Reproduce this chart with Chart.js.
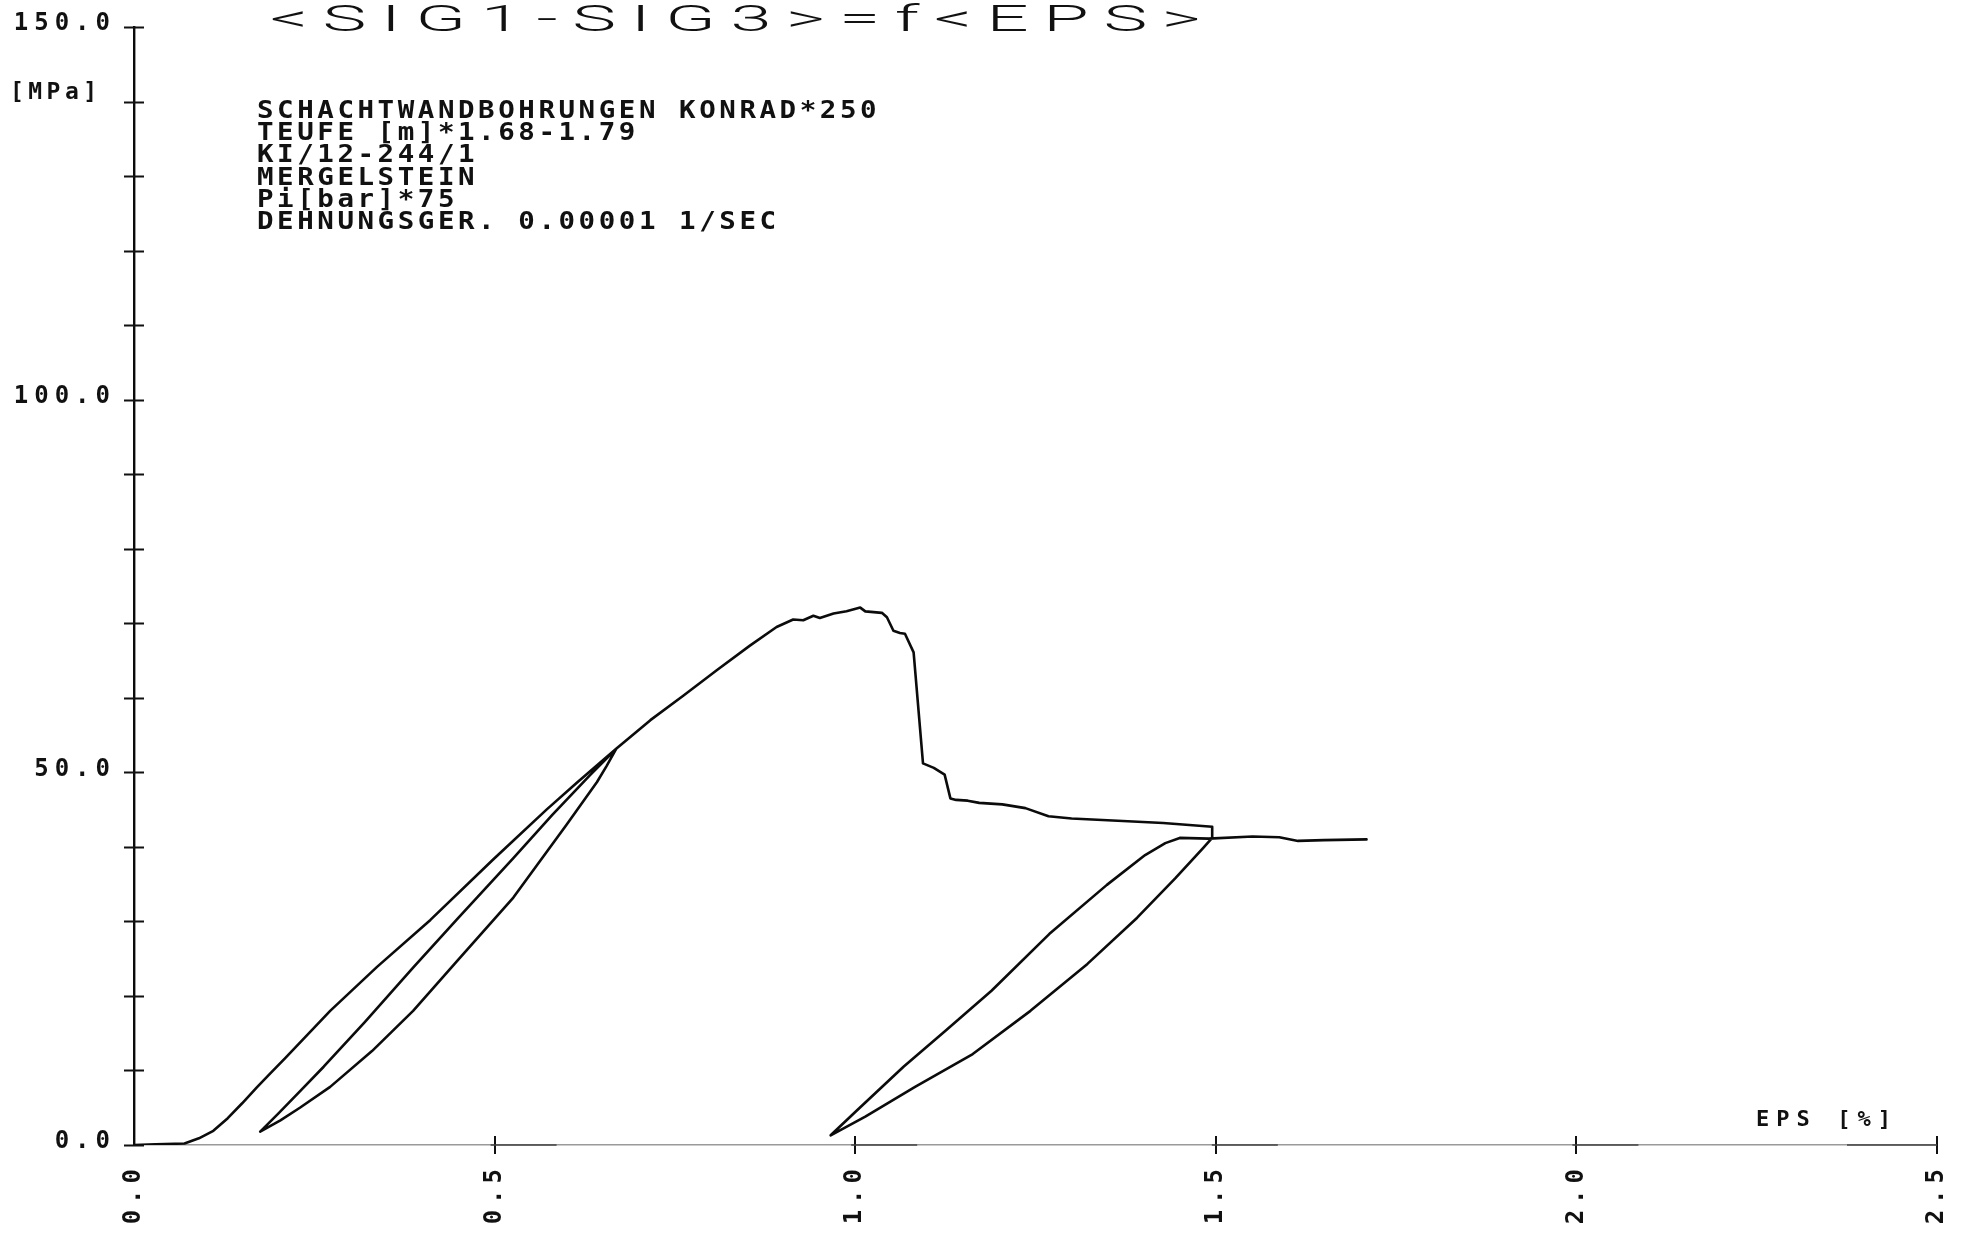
<!DOCTYPE html>
<html>
<head>
<meta charset="utf-8">
<title>(SIG1-SIG3)=f(EPS)</title>
<script src="https://cdn.jsdelivr.net/npm/chart.js@4.4.1/dist/chart.umd.min.js"></script>
<style>
  html, body { margin: 0; padding: 0; background: #ffffff; }
  canvas { display: block; }
</style>
</head>
<body>
<canvas id="plot" width="1963" height="1236"></canvas>
<script>
// Triaxial test, strain EPS [%] against deviatoric stress SIG1-SIG3 [MPa].
// The record is split into its loading / unloading / reloading branches.

// first loading up to the first unloading point
const loadEps = [0, 0.03, 0.07, 0.09, 0.11, 0.13, 0.15, 0.17, 0.19, 0.21, 0.272, 0.337, 0.411, 0.498, 0.572, 0.614, 0.669];
const loadSig = [0, 0.1, 0.2, 0.9, 1.9, 3.6, 5.6, 7.7, 9.7, 11.7, 18.0, 23.9, 30.2, 38.3, 45.0, 48.6, 53.2];

// first unloading
const unload1Eps = [0.669, 0.655, 0.642, 0.600, 0.526, 0.450, 0.387, 0.330, 0.272, 0.230, 0.203, 0.175];
const unload1Sig = [53.2, 50.8, 48.7, 43.0, 33.2, 24.9, 18.0, 12.6, 7.8, 5.0, 3.3, 1.8];

// first reloading
const reload1Eps = [0.175, 0.200, 0.230, 0.263, 0.320, 0.387, 0.450, 0.526, 0.580, 0.632, 0.669];
const reload1Sig = [1.8, 4.2, 7.2, 10.5, 16.5, 23.8, 30.5, 38.5, 44.3, 49.6, 53.2];

// further loading, peak, failure and residual plateau
const peakEps = [0.669, 0.716, 0.762, 0.808, 0.854, 0.891, 0.914, 0.928, 0.942, 0.951, 0.970, 0.988, 1.007, 1.014, 1.037, 1.044, 1.053, 1.062, 1.069, 1.081, 1.094, 1.109, 1.124, 1.132, 1.140, 1.156, 1.172, 1.204, 1.236, 1.268, 1.300, 1.364, 1.427, 1.495, 1.495];
const peakSig = [53.2, 57.0, 60.3, 63.7, 67.0, 69.5, 70.5, 70.4, 71.0, 70.7, 71.3, 71.6, 72.1, 71.6, 71.4, 70.8, 69.0, 68.7, 68.6, 66.1, 51.2, 50.6, 49.7, 46.5, 46.3, 46.2, 45.9, 45.7, 45.2, 44.1, 43.8, 43.5, 43.2, 42.7, 41.2];

// second unloading
const unload2Eps = [1.495, 1.482, 1.444, 1.391, 1.322, 1.243, 1.163, 1.083, 1.014, 0.966];
const unload2Sig = [41.2, 39.8, 35.8, 30.5, 24.3, 18.0, 12.2, 7.8, 3.8, 1.3];

// second reloading and end of the test
const reload2Eps = [0.966, 1.003, 1.067, 1.126, 1.189, 1.269, 1.349, 1.402, 1.430, 1.450, 1.490, 1.551, 1.588, 1.614, 1.650, 1.709];
const reload2Sig = [1.3, 4.7, 10.5, 15.4, 20.7, 28.3, 34.9, 38.9, 40.5, 41.2, 41.1, 41.4, 41.3, 40.8, 40.9, 41.0];

// axis ticks
const epsTicks = [0, 0.5, 1.0, 1.5, 2.0, 2.5];
const sigTickStep = 10;
const sigLabelStep = 50;

// text
const titleText = '<SIG1-SIG3>=f<EPS>';
const sigUnit = '[MPa]';
const epsUnit = 'EPS [%]';
const infoLines = [
  'SCHACHTWANDBOHRUNGEN KONRAD*250',
  'TEUFE [m]*1.68-1.79',
  'KI/12-244/1',
  'MERGELSTEIN',
  'Pi[bar]*75',
  'DEHNUNGSGER. 0.00001 1/SEC'
];

function toPoints(xs, ys) { return xs.map((v, i) => ({ x: v, y: ys[i] })); }

const branches = [
  [loadEps, loadSig], [unload1Eps, unload1Sig], [reload1Eps, reload1Sig],
  [peakEps, peakSig], [unload2Eps, unload2Sig], [reload2Eps, reload2Sig]
];
const curve = [];
branches.forEach(([xs, ys], k) => {
  const pts = toPoints(xs, ys);
  curve.push(...(k === 0 ? pts : pts.slice(1)));
});

const MONO = "'DejaVu Sans Mono', 'Liberation Mono', monospace";

// draw a line of fixed-pitch text, optionally stretched horizontally
function monoText(ctx, text, x, baseline, font, pitch, sx) {
  ctx.save();
  ctx.font = font;
  ctx.letterSpacing = '0px';
  const adv = ctx.measureText('M').width;
  ctx.letterSpacing = (pitch / sx - adv) + 'px';
  ctx.translate(x, baseline);
  ctx.scale(sx, 1);
  ctx.textAlign = 'left';
  ctx.textBaseline = 'alphabetic';
  ctx.fillStyle = '#111';
  ctx.fillText(text, 0, 0);
  ctx.restore();
}

// draw a line of text spread over a given ink width
function spreadText(ctx, text, x, baseline, font, inkWidth, sx) {
  ctx.save();
  ctx.font = font;
  ctx.letterSpacing = '0px';
  const m = ctx.measureText(text);
  const w0 = m.actualBoundingBoxRight + m.actualBoundingBoxLeft;
  const ls = (inkWidth / sx - w0) / (text.length - 1);
  ctx.letterSpacing = ls + 'px';
  ctx.translate(x, baseline);
  ctx.scale(sx, 1);
  ctx.textAlign = 'left';
  ctx.textBaseline = 'alphabetic';
  ctx.fillStyle = '#111';
  ctx.fillText(text, 0, 0);
  ctx.restore();
}

// tick labels are spaced out like plotter lettering
const tickLetterSpacing = {
  id: 'tickLetterSpacing',
  beforeDraw(chart) { chart.ctx.letterSpacing = '6px'; },
  beforeDatasetsDraw(chart) { chart.ctx.letterSpacing = '0px'; }
};

// tick crosses on both axes and the darker stretches of the dotted baseline
const axisMarks = {
  id: 'axisMarks',
  afterDraw(chart) {
    const { ctx, scales: { x, y } } = chart;
    const x0 = x.getPixelForValue(0);
    const y0 = y.getPixelForValue(0);
    ctx.save();
    ctx.letterSpacing = '0px';
    ctx.strokeStyle = '#111';
    ctx.lineWidth = 2;
    ctx.beginPath();
    y.ticks.forEach(t => {
      const py = Math.round(y.getPixelForValue(t.value)) + 0.5;
      ctx.moveTo(x0 - 10, py); ctx.lineTo(x0 + 10, py);
    });
    x.ticks.forEach(t => {
      if (t.value <= 0) return;
      const px = Math.round(x.getPixelForValue(t.value));
      ctx.moveTo(px, y0 - 9); ctx.lineTo(px, y0 + 9);
    });
    ctx.stroke();
    ctx.strokeStyle = '#444';
    ctx.lineWidth = 1.6;
    ctx.beginPath();
    x.ticks.forEach(t => {
      if (t.value <= 0) return;
      const px = x.getPixelForValue(t.value);
      if (t.value >= x.max) { ctx.moveTo(px - 90, y0); ctx.lineTo(px, y0); }
      else { ctx.moveTo(px - 4, y0); ctx.lineTo(px + 62, y0); }
    });
    ctx.stroke();
    ctx.restore();
  }
};

// title, specimen description and axis units
const annotations = {
  id: 'annotations',
  afterDraw(chart) {
    const ctx = chart.ctx;
    spreadText(ctx, titleText, 270, 31, "300 37px Roboto, 'Open Sans', sans-serif", 926, 2.0);
    infoLines.forEach((line, i) => {
      monoText(ctx, line, 257, 118 + i * 22.2, 'bold 25px ' + MONO, 20.1, 1.1);
    });
    monoText(ctx, sigUnit, 10, 99, 'bold 23px ' + MONO, 18.3, 1.0);
    monoText(ctx, epsUnit, 1756, 1126, 'bold 22px ' + MONO, 20.3, 1.0);
  }
};

const tickFont = { family: MONO, size: 24, weight: 'bold' };

new Chart(document.getElementById('plot').getContext('2d'), {
  type: 'scatter',
  data: {
    datasets: [{
      data: curve,
      showLine: true,
      borderColor: '#0b0b0b',
      borderWidth: 2.6,
      pointRadius: 0,
      tension: 0,
      borderJoinStyle: 'round',
      borderCapStyle: 'round'
    }]
  },
  options: {
    responsive: false,
    animation: false,
    devicePixelRatio: 1,
    layout: { padding: { left: 0, right: 26, top: 27, bottom: 0 } },
    plugins: { legend: { display: false }, tooltip: { enabled: false } },
    scales: {
      x: {
        type: 'linear',
        min: epsTicks[0],
        max: epsTicks[epsTicks.length - 1],
        afterFit(scale) { scale.height = 91; scale.paddingLeft = 0; scale.paddingRight = 0; },
        afterBuildTicks(scale) { scale.ticks = epsTicks.map(v => ({ value: v })); },
        grid: { display: false, drawTicks: false },
        border: { display: true, color: '#9a9a9a', width: 1.5, dash: [3, 6] },
        ticks: {
          minRotation: 90,
          maxRotation: 90,
          autoSkip: false,
          padding: 18,
          color: '#111',
          font: tickFont,
          callback: v => Number(v).toFixed(1)
        }
      },
      y: {
        type: 'linear',
        min: 0,
        max: 150,
        afterFit(scale) { scale.width = 134; scale.paddingTop = 0; scale.paddingBottom = 0; },
        grid: { display: false, drawTicks: false },
        border: { display: true, color: '#0b0b0b', width: 2.4 },
        ticks: {
          stepSize: sigTickStep,
          autoSkip: false,
          padding: 18,
          labelOffset: -3,
          color: '#111',
          font: tickFont,
          callback: v => (v % sigLabelStep === 0 ? Number(v).toFixed(1) : '')
        }
      }
    }
  },
  plugins: [tickLetterSpacing, axisMarks, annotations]
});
</script>
</body>
</html>
